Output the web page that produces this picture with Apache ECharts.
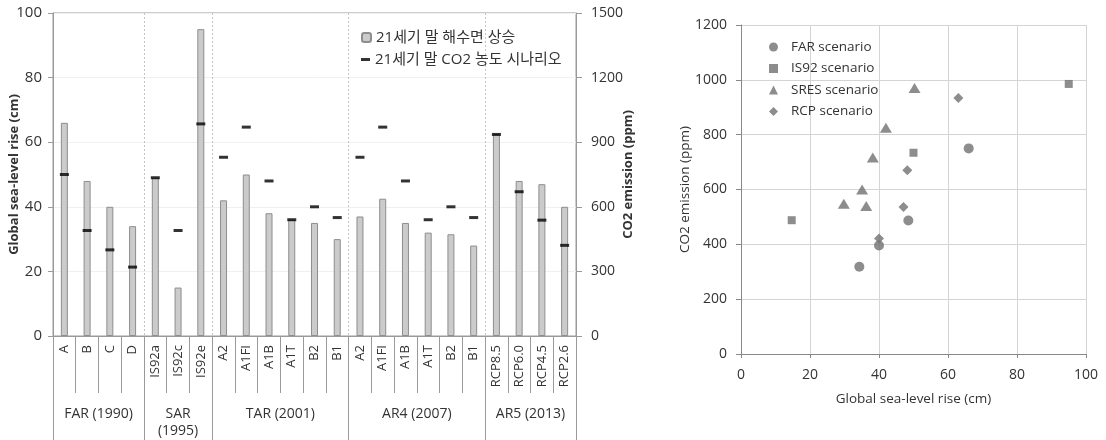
<!DOCTYPE html>
<html>
<head>
<meta charset="utf-8">
<script src="https://cdn.jsdelivr.net/npm/echarts@6/dist/echarts.min.js"></script>
<style>html,body{margin:0;padding:0;background:#fff}#c{width:1106px;height:440px}</style>
</head>
<body>
<div id="c"></div>
<script>
// ---- data ----
const categories = ['A','B','C','D','IS92a','IS92c','IS92e','A2','A1FI','A1B','A1T','B2','B1','A2','A1FI','A1B','A1T','B2','B1','RCP8.5','RCP6.0','RCP4.5','RCP2.6'];
const seaLevel = [66,48,40,34,49,15,95,42,50,38,36,35,30,37,42.5,35,32,31.5,28,62.5,48,47,40];
const co2 = [750,490,400,320,735,490,985,830,970,720,540,600,550,830,970,720,540,600,550,936,670,538,421];
const groupNames = ['FAR (1990)','SAR\n(1995)','TAR (2001)','AR4 (2007)','AR5 (2013)'];
const groupSizes = [4,3,6,6,4];
const leftTicks = [0,20,40,60,80,100];
const rightTicks = [0,300,600,900,1200,1500];

const farPts = [[66,750],[48.5,487],[40,396],[34.3,318]];
const is92Pts = [[14.7,488],[50,734],[95,985]];
const sresPts = [[50.3,970],[42,825],[38.2,717],[35.1,600],[29.8,548],[36.3,540]];
const rcpPts = [[63,934],[48.2,670],[47.1,536],[40,421]];

const legendBar = '21세기 말 해수면 상승';
const legendCO2 = '21세기 말 CO2 농도 시나리오';

// ---- group axis (half-category positions) ----
const nHalf = categories.length * 2 + 1;
const groupAxisData = new Array(nHalf).fill('');
const boundaries = new Set([0]);
let start = 0;
groupSizes.forEach((n, g) => {
  groupAxisData[2 * start + n] = groupNames[g];
  start += n;
  boundaries.add(2 * start);
});
const innerBoundaries = new Set([...boundaries].filter(b => b !== 0 && b !== nHalf - 1));

const FONT = "'Open Sans','Noto Sans CJK KR',sans-serif";
const TXT = '#333';
const AX = '#9a9a9a';
const MK = '#707070';
const plain = (v) => String(v);

const chart = echarts.init(document.getElementById('c'), null, {renderer: 'canvas'});
chart.setOption({
  animation: false,
  textStyle: {fontFamily: FONT, color: TXT},
  grid: [
    {left: 53, right: 530, top: 13, bottom: 102, show: true, borderColor: AX, borderWidth: 1},
    {left: 741, right: 20, top: 25, bottom: 86}
  ],
  legend: [
    {data: [legendBar], left: 356, top: 25, itemWidth: 9, itemHeight: 9,
     textStyle: {fontSize: 15, color: TXT, fontFamily: FONT}},
    {data: [legendCO2], left: 356, top: 47, itemWidth: 9, itemHeight: 3,
     textStyle: {fontSize: 15, color: TXT, fontFamily: FONT}},
    {data: ['FAR scenario','IS92 scenario','SRES scenario','RCP scenario'], orient: 'vertical',
     left: 764, top: 34, itemWidth: 9, itemHeight: 9, itemGap: 5.5,
     textStyle: {fontSize: 13.5, lineHeight: 16, color: TXT, fontFamily: FONT, padding: [0,0,0,8]}}
  ],
  xAxis: [
    {type: 'category', gridIndex: 0, data: categories, boundaryGap: true,
     axisLine: {lineStyle: {color: AX}},
     axisTick: {show: true, length: 57, lineStyle: {color: AX}},
     axisLabel: {rotate: 90, interval: 0, margin: 9, fontSize: 13, color: TXT, fontFamily: FONT},
     splitLine: {show: false}},
    {type: 'category', gridIndex: 0, data: groupAxisData, boundaryGap: false, position: 'bottom',
     axisLine: {show: false},
     axisTick: {show: true, length: 104, interval: (i) => boundaries.has(i), lineStyle: {color: AX}},
     axisLabel: {interval: 0, margin: 70, fontSize: 14, lineHeight: 17, color: TXT, fontFamily: FONT},
     splitLine: {show: true, interval: (i) => innerBoundaries.has(i), lineStyle: {color: '#c4c4c4', type: [2, 2]}}},
    {type: 'value', gridIndex: 1, min: 0, max: 100, interval: 20,
     name: 'Global sea-level rise (cm)', nameLocation: 'middle', nameGap: 38, nameMoveOverlap: false,
     nameTextStyle: {fontSize: 13.5, color: TXT, fontFamily: FONT},
     axisLine: {show: true, lineStyle: {color: '#888'}},
     axisTick: {show: true, length: 4, lineStyle: {color: '#888'}},
     axisLabel: {fontSize: 14, margin: 14, color: TXT, fontFamily: FONT, formatter: plain},
     splitLine: {show: true, lineStyle: {color: '#d4d4d4'}}}
  ],
  yAxis: [
    {type: 'value', gridIndex: 0, min: leftTicks[0], max: leftTicks[leftTicks.length - 1], interval: 20,
     name: 'Global sea-level rise (cm)', nameLocation: 'middle', nameGap: 32, nameMoveOverlap: false,
     nameTextStyle: {fontSize: 13, fontWeight: 'bold', color: TXT, fontFamily: FONT},
     axisLine: {show: true, lineStyle: {color: AX}},
     axisTick: {show: true, length: 5, lineStyle: {color: AX}},
     axisLabel: {fontSize: 15, margin: 11, color: TXT, fontFamily: FONT, formatter: plain},
     splitLine: {show: true, lineStyle: {color: '#f0f0f0'}}},
    {type: 'value', gridIndex: 0, position: 'right', min: rightTicks[0], max: rightTicks[rightTicks.length - 1], interval: 300,
     name: 'CO2 emission (ppm)', nameLocation: 'middle', nameGap: 46, nameMoveOverlap: false,
     nameTextStyle: {fontSize: 13, fontWeight: 'bold', color: TXT, fontFamily: FONT},
     axisLine: {show: true, lineStyle: {color: AX}},
     axisTick: {show: true, length: 6, lineStyle: {color: AX}},
     axisLabel: {fontSize: 14, margin: 15, color: TXT, fontFamily: FONT, formatter: plain},
     splitLine: {show: false}},
    {type: 'value', gridIndex: 1, min: 0, max: 1200, interval: 200,
     name: 'CO2 emission (ppm)', nameLocation: 'middle', nameGap: 49, nameMoveOverlap: false,
     nameTextStyle: {fontSize: 13.5, color: TXT, fontFamily: FONT},
     axisLine: {show: true, lineStyle: {color: '#888'}},
     axisTick: {show: true, length: 5, lineStyle: {color: '#888'}},
     axisLabel: {fontSize: 14, margin: 14, color: TXT, fontFamily: FONT, formatter: plain},
     splitLine: {show: true, lineStyle: {color: '#d4d4d4'}}}
  ],
  series: [
    {name: legendBar, type: 'bar', xAxisIndex: 0, yAxisIndex: 0, data: seaLevel, barWidth: 7,
     itemStyle: {color: '#cbcbcb', borderColor: '#8e8e8e', borderWidth: 1}, z: 2},
    {name: legendCO2, type: 'scatter', xAxisIndex: 0, yAxisIndex: 1, data: co2,
     symbol: 'rect', symbolSize: [9, 3], itemStyle: {color: '#000'}, z: 5},
    {name: 'FAR scenario', type: 'scatter', xAxisIndex: 2, yAxisIndex: 2, data: farPts,
     symbol: 'circle', symbolSize: 10, itemStyle: {color: MK}},
    {name: 'IS92 scenario', type: 'scatter', xAxisIndex: 2, yAxisIndex: 2, data: is92Pts,
     symbol: 'rect', symbolSize: 8, itemStyle: {color: MK}},
    {name: 'SRES scenario', type: 'scatter', xAxisIndex: 2, yAxisIndex: 2, data: sresPts,
     symbol: 'triangle', symbolSize: [12, 10], itemStyle: {color: MK}},
    {name: 'RCP scenario', type: 'scatter', xAxisIndex: 2, yAxisIndex: 2, data: rcpPts,
     symbol: 'diamond', symbolSize: [10, 10], itemStyle: {color: MK}}
  ]
});
</script>
</body>
</html>
